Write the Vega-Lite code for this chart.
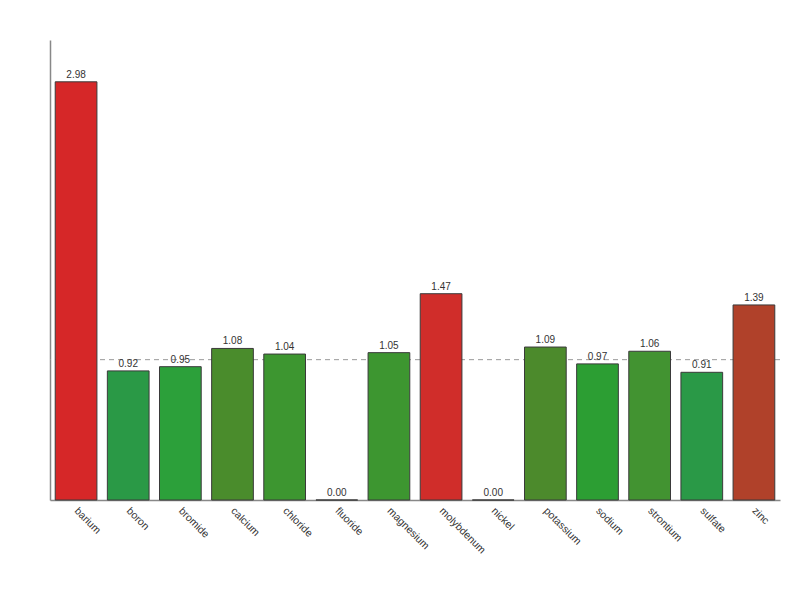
{
  "$schema": "https://vega.github.io/schema/vega-lite/v6.json",
  "width": 730,
  "height": 460,
  "autosize": "none",
  "padding": {"left": 50, "top": 40, "right": 20, "bottom": 100},
  "background": "white",
  "config": {"view": {"stroke": null}, "font": "Liberation Sans"},
  "data": {"values": [
    {"ion": "barium", "ratio": 2.98},
    {"ion": "boron", "ratio": 0.92},
    {"ion": "bromide", "ratio": 0.95},
    {"ion": "calcium", "ratio": 1.08},
    {"ion": "chloride", "ratio": 1.04},
    {"ion": "fluoride", "ratio": 0.0},
    {"ion": "magnesium", "ratio": 1.05},
    {"ion": "molybdenum", "ratio": 1.47},
    {"ion": "nickel", "ratio": 0.0},
    {"ion": "potassium", "ratio": 1.09},
    {"ion": "sodium", "ratio": 0.97},
    {"ion": "strontium", "ratio": 1.06},
    {"ion": "sulfate", "ratio": 0.91},
    {"ion": "zinc", "ratio": 1.39}
  ]},
  "encoding": {
    "x": {
      "field": "ion", "type": "nominal", "sort": null,
      "scale": {"paddingInner": 0.2, "paddingOuter": 0.1},
      "axis": {
        "title": null, "ticks": false, "domainColor": "#888888", "domainWidth": 1.5,
        "labelAngle": 45, "labelAlign": "left", "labelBaseline": "middle", "labelPadding": 9,
        "labelFontSize": 10.5, "labelColor": "#333333", "labelFont": "Liberation Sans"
      }
    }
  },
  "layer": [
    {
      "data": {"values": [{"ref": 1.0}]},
      "mark": {"type": "rule", "color": "#999999", "strokeDash": [5, 4], "strokeWidth": 1},
      "encoding": {"y": {"field": "ref", "type": "quantitative"}, "x": null}
    },
    {
      "mark": {"type": "bar", "stroke": "#3a3a3a", "strokeWidth": 1},
      "encoding": {
        "y": {
          "field": "ratio", "type": "quantitative",
          "scale": {"domain": [0, 3.278], "nice": false},
          "axis": {"title": null, "labels": false, "ticks": false, "grid": false, "domainColor": "#888888", "domainWidth": 1.5}
        },
        "color": {
          "field": "ion", "type": "nominal", "legend": null,
          "scale": {
            "domain": ["barium","boron","bromide","calcium","chloride","fluoride","magnesium","molybdenum","nickel","potassium","sodium","strontium","sulfate","zinc"],
            "range": ["#d62728","#2a9946","#2ca03a","#4a8c2c","#3d9630","#2ca02c","#3d9630","#d02d2a","#2ca02c","#4c8a2c","#2c9e33","#429331","#2a9947","#b0412a"]
          }
        }
      }
    },
    {
      "mark": {"type": "text", "dy": -7, "fontSize": 10, "color": "#333333", "font": "Liberation Sans"},
      "encoding": {
        "y": {"field": "ratio", "type": "quantitative"},
        "text": {"field": "ratio", "type": "quantitative", "format": ".2f"}
      }
    }
  ]
}
